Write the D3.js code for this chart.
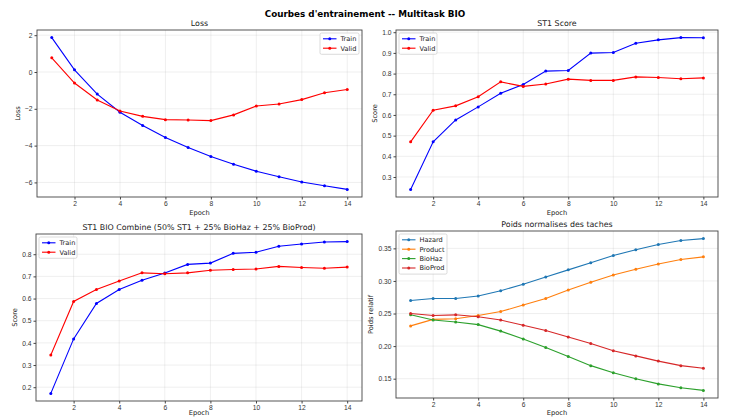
<!DOCTYPE html>
<html>
<head>
<meta charset="utf-8">
<script src="https://cdn.jsdelivr.net/npm/d3@7"></script>
<style>
  body { margin: 0; background: #fff; }
  svg { font-family: "DejaVu Sans", sans-serif; }
  .axis path, .axis line { stroke: #444; }
  .axis text { fill: #333; }
</style>
</head>
<body>
<div id="chart"></div>
<script>
// Data
const epochs = [1, 2, 3, 4, 5, 6, 7, 8, 9, 10, 11, 12, 13, 14]

const lossTrain = [1.87, 0.12, -1.20, -2.19, -2.91, -3.56, -4.10, -4.59, -5.01, -5.39, -5.69, -5.98, -6.18, -6.38]
const lossValid = [0.77, -0.60, -1.52, -2.12, -2.41, -2.59, -2.61, -2.64, -2.33, -1.85, -1.74, -1.50, -1.13, -0.95]

const st1Train = [0.240, 0.470, 0.576, 0.639, 0.705, 0.747, 0.812, 0.815, 0.899, 0.902, 0.947, 0.963, 0.974, 0.973]
const st1Valid = [0.470, 0.623, 0.644, 0.688, 0.760, 0.738, 0.750, 0.773, 0.767, 0.767, 0.784, 0.781, 0.775, 0.779]

const combTrain = [0.172, 0.418, 0.578, 0.641, 0.683, 0.715, 0.754, 0.760, 0.804, 0.809, 0.836, 0.846, 0.855, 0.857]
const combValid = [0.345, 0.587, 0.641, 0.679, 0.716, 0.712, 0.716, 0.728, 0.731, 0.733, 0.745, 0.740, 0.737, 0.742]

const wHazard  = [0.270, 0.273, 0.273, 0.277, 0.285, 0.295, 0.306, 0.317, 0.328, 0.339, 0.348, 0.356, 0.362, 0.365]
const wProduct = [0.231, 0.241, 0.242, 0.247, 0.253, 0.263, 0.273, 0.286, 0.298, 0.309, 0.318, 0.326, 0.333, 0.337]
const wBioHaz  = [0.248, 0.240, 0.237, 0.233, 0.223, 0.211, 0.198, 0.184, 0.170, 0.159, 0.150, 0.142, 0.136, 0.132]
const wBioProd = [0.250, 0.247, 0.248, 0.245, 0.240, 0.232, 0.224, 0.214, 0.204, 0.193, 0.185, 0.177, 0.170, 0.166]

const xTicks = [2, 4, 6, 8, 10, 12, 14]
const lossTicks = [-6, -4, -2, 0, 2]
const st1Ticks = [0.3, 0.4, 0.5, 0.6, 0.7, 0.8, 0.9, 1.0]
const combTicks = [0.2, 0.3, 0.4, 0.5, 0.6, 0.7, 0.8]
const weightTicks = [0.15, 0.20, 0.25, 0.30, 0.35]

const suptitle = "Courbes d'entrainement -- Multitask BIO"

// Dimensions
const width = 729, height = 417
const tickFont = 6.7

const svg = d3.select('#chart')
  .append('svg')
  .attr('width', width)
  .attr('height', height)

svg.append('text')
  .attr('x', 365)
  .attr('y', 17)
  .attr('text-anchor', 'middle')
  .attr('font-size', 8.8)
  .attr('font-weight', 'bold')
  .text(suptitle)

const fmtMinus = (f) => (d) => f(d).replace('-', '\u2212')

function panel(opt){
  const {left, right, top, bottom} = opt.box
  const allY = opt.series.flatMap(s => s.values)
  const [lo, hi] = d3.extent(allY)
  const pad = (hi - lo) * 0.05

  const xScale = d3.scaleLinear().domain([0.35, 14.65]).range([left, right])
  const yScale = d3.scaleLinear().domain([lo - pad, hi + pad]).range([bottom, top])

  const g = svg.append('g')

  // grid
  g.append('g').selectAll('line')
    .data(xTicks)
    .join('line')
    .attr('x1', d => xScale(d)).attr('x2', d => xScale(d))
    .attr('y1', top).attr('y2', bottom)
    .attr('stroke', '#b0b0b0').attr('stroke-opacity', 0.3).attr('stroke-width', 0.7)
  g.append('g').selectAll('line')
    .data(opt.yTicks)
    .join('line')
    .attr('x1', left).attr('x2', right)
    .attr('y1', d => yScale(d)).attr('y2', d => yScale(d))
    .attr('stroke', '#b0b0b0').attr('stroke-opacity', 0.3).attr('stroke-width', 0.7)

  // lines
  const line = d3.line()
    .x((d, i) => xScale(epochs[i]))
    .y(d => yScale(d))

  opt.series.forEach(s => {
    g.append('path')
      .datum(s.values)
      .attr('d', line)
      .attr('fill', 'none')
      .attr('stroke', s.color)
      .attr('stroke-width', 1.1)
    g.append('g').selectAll('circle')
      .data(s.values)
      .join('circle')
      .attr('cx', (d, i) => xScale(epochs[i]))
      .attr('cy', d => yScale(d))
      .attr('r', 1.5)
      .attr('fill', s.color)
  })

  // axes
  const xAxis = d3.axisBottom(xScale).tickValues(xTicks).tickSize(2.5).tickPadding(2).tickFormat(d3.format('d'))
  g.append('g')
    .attr('class', 'axis')
    .attr('transform', `translate(0, ${bottom})`)
    .call(xAxis)
    .call(a => a.select('.domain').remove())
    .selectAll('text').attr('font-size', tickFont)

  const yAxis = d3.axisLeft(yScale).tickValues(opt.yTicks).tickSize(2.5).tickPadding(2).tickFormat(fmtMinus(d3.format(opt.yFormat)))
  g.append('g')
    .attr('class', 'axis')
    .attr('transform', `translate(${left}, 0)`)
    .call(yAxis)
    .call(a => a.select('.domain').remove())
    .selectAll('text').attr('font-size', tickFont)

  // frame
  g.append('rect')
    .attr('x', left).attr('y', top)
    .attr('width', right - left).attr('height', bottom - top)
    .attr('fill', 'none')
    .attr('stroke', '#444')
    .attr('stroke-width', 0.9)

  // title + labels
  g.append('text')
    .attr('x', (left + right) / 2)
    .attr('y', top - 4)
    .attr('text-anchor', 'middle')
    .attr('font-size', 7.9)
    .attr('fill', '#222')
    .text(opt.title)

  g.append('text')
    .attr('x', (left + right) / 2)
    .attr('y', Math.min(bottom + 18, height - 2))
    .attr('text-anchor', 'middle')
    .attr('font-size', tickFont)
    .attr('fill', '#222')
    .text('Epoch')

  g.append('text')
    .attr('transform', `translate(${opt.yLabelX}, ${(top + bottom) / 2}) rotate(-90)`)
    .attr('text-anchor', 'middle')
    .attr('font-size', tickFont)
    .attr('fill', '#222')
    .text(opt.yLabel)

  // legend
  const rowH = 9.4
  const legW = opt.legendWidth
  const legH = opt.series.length * rowH + 2.5
  const lx = opt.legendRight ? right - 3 - legW : left + 3
  const ly = top + 3
  const leg = g.append('g').attr('transform', `translate(${lx}, ${ly})`)
  leg.append('rect')
    .attr('width', legW).attr('height', legH)
    .attr('rx', 1.5)
    .attr('fill', '#fff').attr('fill-opacity', 0.8)
    .attr('stroke', '#cccccc').attr('stroke-width', 0.7)
  opt.series.forEach((s, i) => {
    const yy = 5.8 + i * rowH
    leg.append('line')
      .attr('x1', 3).attr('x2', 16.5)
      .attr('y1', yy).attr('y2', yy)
      .attr('stroke', s.color).attr('stroke-width', 1.1)
    leg.append('circle')
      .attr('cx', 9.75).attr('cy', yy).attr('r', 1.5)
      .attr('fill', s.color)
    leg.append('text')
      .attr('x', 20.5).attr('y', yy + 2.3)
      .attr('font-size', 6.6)
      .attr('fill', '#222')
      .text(s.name)
  })
}

panel({
  box: {left: 37, right: 362, top: 30, bottom: 197},
  title: 'Loss', yLabel: 'Loss', yLabelX: 20,
  yTicks: lossTicks, yFormat: 'd',
  legendRight: true, legendWidth: 39,
  series: [
    {name: 'Train', values: lossTrain, color: '#0000ff'},
    {name: 'Valid', values: lossValid, color: '#ff0000'}
  ]
})

panel({
  box: {left: 396, right: 718, top: 30, bottom: 197},
  title: 'ST1 Score', yLabel: 'Score', yLabelX: 377,
  yTicks: st1Ticks, yFormat: '.1f',
  legendRight: false, legendWidth: 38,
  series: [
    {name: 'Train', values: st1Train, color: '#0000ff'},
    {name: 'Valid', values: st1Valid, color: '#ff0000'}
  ]
})

panel({
  box: {left: 36, right: 362, top: 234, bottom: 401},
  title: 'ST1 BIO Combine (50% ST1 + 25% BioHaz + 25% BioProd)', yLabel: 'Score', yLabelX: 17,
  yTicks: combTicks, yFormat: '.1f',
  legendRight: false, legendWidth: 38,
  series: [
    {name: 'Train', values: combTrain, color: '#0000ff'},
    {name: 'Valid', values: combValid, color: '#ff0000'}
  ]
})

panel({
  box: {left: 396, right: 718, top: 231, bottom: 398},
  title: 'Poids normalises des taches', yLabel: 'Poids relatif', yLabelX: 373,
  yTicks: weightTicks, yFormat: '.2f',
  legendRight: false, legendWidth: 48,
  series: [
    {name: 'Hazard', values: wHazard, color: '#1f77b4'},
    {name: 'Product', values: wProduct, color: '#ff7f0e'},
    {name: 'BioHaz', values: wBioHaz, color: '#2ca02c'},
    {name: 'BioProd', values: wBioProd, color: '#d62728'}
  ]
})
</script>
</body>
</html>
